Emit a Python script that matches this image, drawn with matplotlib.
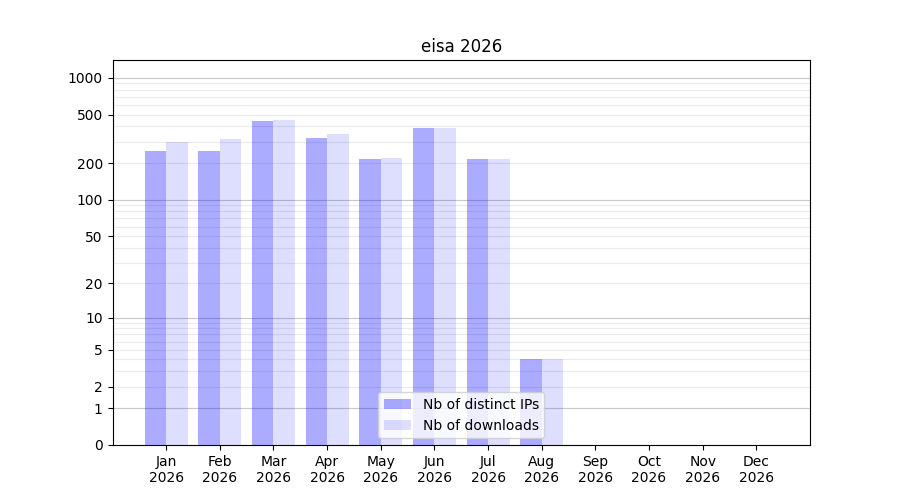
import numpy as np
import matplotlib
matplotlib.use("Agg")
import matplotlib.pyplot as plt

# Datos
meses = ["Jan", "Feb", "Mar", "Apr", "May", "Jun", "Jul", "Aug", "Sep", "Oct", "Nov", "Dec"]
anio = "2026"
ips = [250, 250, 445, 323, 218, 390, 218, 4, 0, 0, 0, 0]
descargas = [300, 318, 455, 349, 222, 390, 218, 4, 0, 0, 0, 0]
ticks_y = [0, 1, 2, 5, 10, 20, 50, 100, 200, 500, 1000]


def fwd(v):
    return np.log10(1 + np.clip(v, 0, None))


def inv(v):
    return 10 ** v - 1


fig, ax = plt.subplots(figsize=(9, 5), dpi=100)
x = np.arange(len(meses))

ax.bar(x - 0.2, ips, width=0.4, color="blue", alpha=0.33, label="Nb of distinct IPs", zorder=2)
ax.bar(x + 0.2, descargas, width=0.4, color="blue", alpha=0.13, label="Nb of downloads", zorder=2)

ax.set_yscale("function", functions=(fwd, inv))
ax.set_ylim(0, 1400)
ax.set_xlim(-1, 12)

# Rejilla: lineas suaves en 2..9 de cada decada, mas marcadas en las decadas
for d in [1, 10, 100]:
    for m in range(2, 10):
        ax.axhline(d * m, color="#ebebeb", lw=0.8, zorder=0)
for d in [1, 10, 100, 1000]:
    ax.axhline(d, color="#c8c8c8", lw=0.8, zorder=1)

ax.set_yticks(ticks_y)
ax.set_yticklabels([str(v) for v in ticks_y])
ax.minorticks_off()
ax.set_xticks(x)
ax.set_xticklabels([m + "\n" + anio for m in meses])

ax.set_title("eisa " + anio)
ax.legend(loc="lower center")

plt.savefig("out.png", dpi=100)
